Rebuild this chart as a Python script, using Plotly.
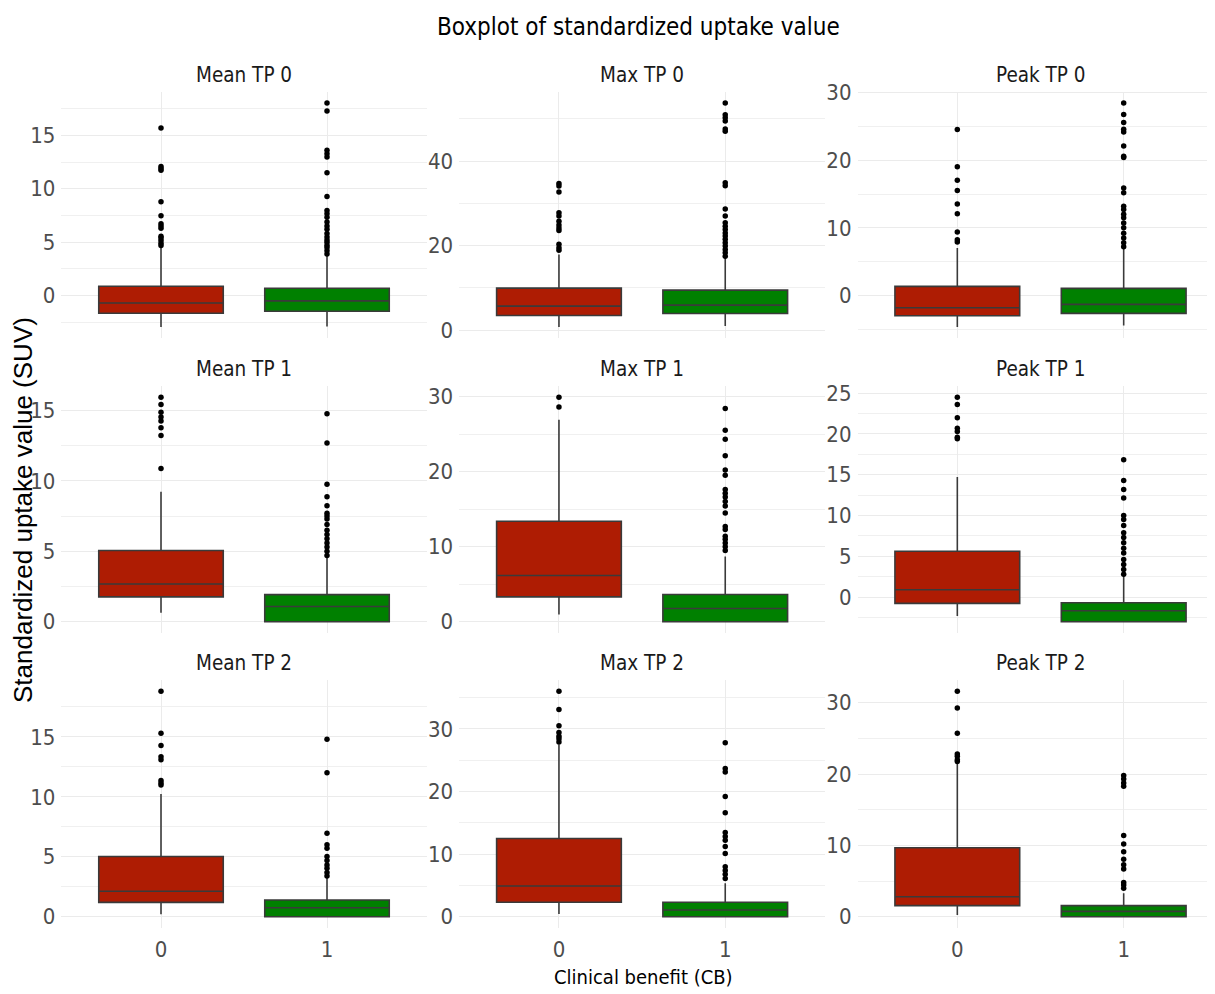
import plotly.graph_objects as go
from plotly.subplots import make_subplots

# ---------------- data ----------------
panel_titles = ["Mean TP 0", "Max TP 0", "Peak TP 0",
                "Mean TP 1", "Max TP 1", "Peak TP 1",
                "Mean TP 2", "Max TP 2", "Peak TP 2"]
categories = ["0", "1"]

# Clinical benefit = 0 (red)
cb0_lower = [-2.95, 0.71, -4.7, 0.64, 0.97, -2.32, 0.2, 0.43, 0.23]
cb0_q1 = [-1.66, 3.47, -3.02, 1.77, 3.32, -0.77, 1.2, 2.3, 1.55]
cb0_median = [-0.69, 5.68, -1.83, 2.68, 6.16, 0.9, 2.12, 4.91, 2.81]
cb0_q3 = [0.87, 9.94, 1.33, 5.06, 13.38, 5.63, 5.02, 12.49, 9.66]
cb0_upper = [4.55, 17.9, 7.0, 9.23, 26.9, 14.72, 10.23, 27.5, 21.5]
cb0_outliers = [
    [15.69, 12.09, 11.88, 11.72, 8.78, 7.47, 6.72, 6.5, 6.31, 5.56, 5.38, 5.16, 4.9, 4.69],
    [34.7, 34.1, 32.7, 27.8, 27.0, 25.8, 24.9, 24.2, 23.6, 20.3, 19.5, 18.9],
    [24.57, 19.03, 17.05, 15.52, 13.54, 12.1, 9.39, 8.25, 7.9],
    [15.94, 15.42, 14.88, 14.53, 14.25, 13.77, 13.23, 10.88],
    [29.9, 28.6],
    [24.5, 23.6, 22.0, 20.7, 20.3, 19.6, 19.4],
    [18.8, 15.3, 14.27, 13.33, 13.1, 11.37, 11.15, 10.98],
    [36.0, 33.1, 30.5, 29.4, 28.8, 28.4, 27.9],
    [31.6, 29.25, 25.7, 22.8, 22.5, 22.0, 21.75],
]

# Clinical benefit = 1 (green)
cb1_lower = [-2.9, 0.95, -4.45, 0.0, 0.0, -3.02, 0.0, 0.0, 0.0]
cb1_q1 = [-1.47, 3.94, -2.67, 0.0, 0.0, -3.02, 0.0, 0.0, 0.0]
cb1_median = [-0.5, 5.92, -1.33, 1.08, 1.77, -1.67, 0.75, 1.07, 0.75]
cb1_q3 = [0.69, 9.47, 1.04, 1.93, 3.63, -0.69, 1.39, 2.3, 1.55]
cb1_upper = [3.8, 17.1, 6.9, 4.6, 8.7, 2.6, 3.3, 5.34, 3.28]
cb1_outliers = [
    [18.03, 17.28, 13.6, 13.28, 12.97, 11.5, 9.28, 7.97, 7.66, 7.34, 6.88, 6.5, 6.2, 5.8,
     5.47, 5.2, 5.0, 4.7, 4.5, 4.2, 3.9],
    [53.8, 51.0, 50.3, 49.5, 47.65, 47.1, 34.9, 34.2, 28.7, 27.0, 25.4, 24.6, 23.8, 23.0,
     22.3, 21.5, 20.7, 19.9, 19.1, 18.3, 17.5],
    [28.5, 26.8, 25.6, 24.6, 24.2, 22.1, 20.6, 20.4, 15.9, 15.2, 13.2, 12.7, 12.0, 11.5,
     10.7, 10.0, 9.2, 8.5, 7.8, 7.2],
    [14.76, 12.69, 9.77, 8.88, 8.24, 7.7, 7.5, 7.3, 6.9, 6.5, 6.2, 5.9, 5.6, 5.3, 5.0, 4.7],
    [28.4, 25.5, 24.3, 22.1, 20.2, 19.5, 17.6, 17.1, 16.6, 16.0, 15.4, 14.5, 12.7, 12.3,
     11.4, 11.0, 10.5, 10.0, 9.5],
    [16.84, 14.3, 13.2, 12.15, 10.0, 9.5, 8.77, 7.9, 7.3, 6.65, 6.0, 5.4, 4.6, 4.0, 3.4, 2.8],
    [14.8, 12.0, 6.97, 6.0, 5.72, 5.02, 4.68, 4.32, 4.04, 3.68, 3.4],
    [27.8, 23.65, 23.1, 19.2, 16.6, 13.45, 12.8, 12.2, 11.2, 10.1, 8.0, 7.4, 6.8, 6.1],
    [19.8, 19.3, 18.75, 18.3, 11.4, 10.2, 9.1, 8.06, 7.27, 6.7, 4.78, 4.45, 4.0],
]

y_dtick = [5, 20, 10, 5, 10, 5, 5, 10, 10]

# ---------------- style / layout ----------------
OFF = 8                      # page body margin offset
W, H = 1215 - OFF, 994 - OFF
col_px = [(61.4, 426.6), (459.2, 825.0), (857.5, 1223.5)]   # target page pixels
row_px = [(91.7, 338.3), (386.0, 633.0), (680.0, 928.0)]
RED, GREEN = "#AE1C03", "#008000"
NARROW = "DejaVu Sans Condensed, Liberation Sans Narrow, sans-serif"
REGULAR = "Liberation Sans, Arial, sans-serif"
GRID = "#EBEBEB"


def px_x(v):
    return (v - OFF) / W


def px_y(v):
    return 1 - (v - OFF) / H


fig = make_subplots(rows=3, cols=3)

groups = [
    (categories[0], RED, cb0_lower, cb0_q1, cb0_median, cb0_q3, cb0_upper, cb0_outliers),
    (categories[1], GREEN, cb1_lower, cb1_q1, cb1_median, cb1_q3, cb1_upper, cb1_outliers),
]

annotations = []
for i, title in enumerate(panel_titles):
    r, c = divmod(i, 3)
    for cat, color, lo, q1, med, q3, hi, outs in groups:
        fig.add_trace(go.Box(
            x=[cat], q1=[q1[i]], median=[med[i]], q3=[q3[i]],
            lowerfence=[lo[i]], upperfence=[hi[i]],
            fillcolor=color, line=dict(color="#3a3a3a", width=1.6),
            width=0.75, whiskerwidth=0, boxpoints=False,
            showlegend=False, hoverinfo="skip"), row=r + 1, col=c + 1)
        fig.add_trace(go.Scatter(
            x=[cat] * len(outs[i]), y=outs[i], mode="markers",
            marker=dict(color="black", size=5.5), showlegend=False,
            hoverinfo="skip"), row=r + 1, col=c + 1)

    # axis ranges with ggplot-like 5% expansion
    vals = [cb0_lower[i], cb1_lower[i], cb0_upper[i], cb1_upper[i]] + cb0_outliers[i] + cb1_outliers[i]
    vmin, vmax = min(vals), max(vals)
    pad = 0.05 * (vmax - vmin)

    l, rr = col_px[c]
    t, b = row_px[r]
    right = min(rr, W + OFF)
    xr = [-0.6, -0.6 + 2.2 * (right - l) / (rr - l)]
    idx = "" if i == 0 else str(i + 1)
    fig.layout["xaxis" + idx].update(
        domain=[px_x(l), min(1.0, px_x(right))], range=xr, type="category",
        categoryorder="array", categoryarray=categories,
        showgrid=True, gridcolor=GRID, gridwidth=1.2, zeroline=False,
        showline=False, ticks="", showticklabels=(r == 2), automargin=False,
        tickfont=dict(family=NARROW, size=22, color="#4D4D4D"),
        ticklabelstandoff=6)
    fig.layout["yaxis" + idx].update(
        domain=[px_y(b), px_y(t)], range=[vmin - pad, vmax + pad],
        dtick=y_dtick[i], tick0=0, showgrid=True, gridcolor=GRID, gridwidth=1.3,
        minor=dict(dtick=y_dtick[i] / 2, tick0=0, showgrid=True, gridcolor="#F0F0F0", gridwidth=1),
        zeroline=False, showline=False, ticks="", automargin=False,
        tickfont=dict(family=NARROW, size=22, color="#4D4D4D"),
        ticklabelstandoff=5)
    annotations.append(dict(
        text=title, x=px_x((l + rr) / 2), y=px_y(t - 17), xref="paper", yref="paper",
        showarrow=False, xanchor="center", yanchor="middle",
        font=dict(family=NARROW, size=20.5, color="#1A1A1A")))

annotations += [
    dict(text="Boxplot of standardized uptake value", x=px_x(638), y=px_y(27),
         xref="paper", yref="paper", showarrow=False, xanchor="center", yanchor="middle",
         font=dict(family=NARROW, size=24, color="black")),
    dict(text="Clinical benefit (CB)", x=px_x(643), y=px_y(977),
         xref="paper", yref="paper", showarrow=False, xanchor="center", yanchor="middle",
         font=dict(family=NARROW, size=20, color="black")),
    dict(text="Standardized uptake value (SUV)", x=px_x(23), y=px_y(510),
         xref="paper", yref="paper", showarrow=False, xanchor="center", yanchor="middle",
         textangle=-90, font=dict(family=REGULAR, size=26, color="black")),
]

fig.update_layout(
    width=W, height=H, margin=dict(l=0, r=0, t=0, b=0, autoexpand=False),
    paper_bgcolor="white", plot_bgcolor="white",
    boxmode="overlay", annotations=annotations,
)

fig.write_html("out.html")
